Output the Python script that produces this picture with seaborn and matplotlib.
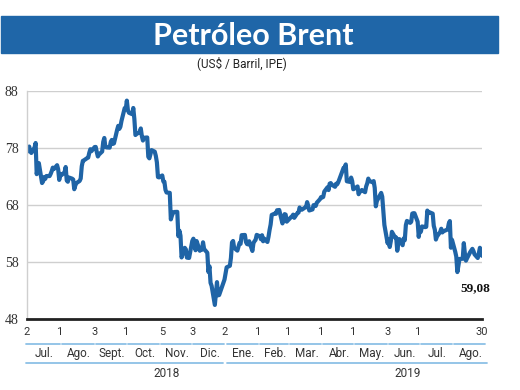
import pandas as pd
import seaborn as sns
import matplotlib.pyplot as plt
import matplotlib.dates as mdates
from matplotlib import transforms
from matplotlib.patches import Rectangle

# -------------------- DATOS --------------------
# Brent diario (US$ / barril)
jul18 = [77.30, 77.76, 78.24, 77.39, 77.11, 78.07, 78.86, 73.40, 74.45, 75.33, 71.84,
         72.16, 72.90, 72.58, 73.07, 73.06, 73.44, 73.93, 74.54, 74.29, 74.97, 74.25]
ago18 = [72.39, 73.45, 73.21, 73.75, 74.65, 72.28, 72.07, 72.81, 72.61, 72.46, 70.76, 71.43,
         71.83, 72.21, 72.63, 74.78, 75.73, 75.82, 76.21, 76.31, 77.14, 77.77, 77.42]
sep18 = [78.15, 78.17, 77.27, 76.50, 76.83, 77.37, 79.06, 79.74, 78.18, 78.09,
         78.05, 79.03, 79.40, 78.70, 78.80, 81.20, 81.87, 81.34, 81.72, 82.72]
oct18 = [84.98, 84.80, 86.29, 84.58, 84.16, 83.91, 85.00, 83.09, 80.26, 80.43, 80.78, 81.41,
         80.05, 79.29, 79.78, 79.83, 76.44, 76.17, 76.89, 77.62, 77.34, 76.61, 75.47]
nov18 = [72.89, 72.83, 73.17, 72.13, 72.07, 70.65, 70.18, 70.12, 65.47, 66.12, 66.62,
         66.76, 66.79, 62.53, 63.48, 62.60, 58.80, 60.48, 60.21, 58.76, 59.51, 58.71]
dic18 = [61.69, 62.08, 61.56, 60.06, 61.67, 59.97, 60.20, 60.15, 61.45, 60.28,
         59.61, 56.26, 57.24, 54.35, 53.82, 50.47, 54.47, 52.16, 52.20, 53.80]
ene19 = [54.91, 55.95, 57.06, 57.33, 58.72, 61.44, 61.68, 60.48, 59.99, 60.64, 61.32,
         61.18, 62.70, 62.74, 61.50, 61.14, 61.09, 61.64, 59.93, 61.32, 61.65, 61.89]
feb19 = [62.75, 62.51, 61.98, 62.69, 61.63, 62.10, 61.51, 62.42, 63.61, 64.57,
         66.25, 66.50, 66.45, 67.08, 67.07, 67.12, 64.76, 65.21, 66.39, 66.31]
mar19 = [65.07, 65.67, 65.86, 65.99, 66.30, 65.74, 66.58, 66.67, 67.55, 67.23, 67.16,
         67.54, 67.61, 68.50, 67.86, 67.03, 67.21, 67.97, 67.83, 67.82, 68.39]
abr19 = [69.01, 69.37, 69.31, 69.40, 70.34, 71.10, 70.61, 71.73, 71.83, 71.55, 71.18,
         71.72, 71.62, 71.97, 74.04, 74.51, 74.57, 75.10, 72.15, 72.04, 72.80]
may19 = [72.18, 70.75, 70.85, 71.24, 69.88, 70.37, 70.39, 70.62, 70.23, 71.24, 71.77,
         72.62, 72.21, 71.97, 72.18, 70.99, 67.76, 68.69, 70.11, 69.45, 66.87, 64.49]
jun19 = [61.28, 61.97, 60.63, 61.67, 63.29, 62.29, 62.29, 59.97, 61.31, 62.01,
         60.94, 62.14, 61.82, 64.45, 65.20, 64.86, 65.05, 66.49, 66.55, 66.55]
jul19 = [65.06, 62.40, 63.82, 63.30, 64.23, 64.11, 64.16, 67.01, 66.52, 66.72, 66.48, 64.35,
         63.66, 61.93, 62.47, 63.26, 63.83, 63.18, 63.39, 63.46, 63.71, 64.72, 65.17]
ago19 = [60.50, 61.89, 59.81, 58.94, 56.23, 57.38, 58.53, 58.57, 61.30, 59.48, 58.23,
         58.64, 59.74, 60.03, 60.30, 59.92, 59.34, 58.70, 59.51, 60.49, 60.08, 59.08]

feriados = ['2018-12-25', '2019-01-01', '2019-04-19', '2019-05-27']

meses = ['Jul.', 'Ago.', 'Sept.', 'Oct.', 'Nov.', 'Dic.', 'Ene.',
         'Feb.', 'Mar.', 'Abr.', 'May.', 'Jun.', 'Jul.', 'Ago.']
tick_fechas = ['2018-07-02', '2018-08-01', '2018-09-03', '2018-10-01', '2018-11-05',
               '2018-12-03', '2019-01-02', '2019-02-01', '2019-03-01', '2019-04-01',
               '2019-05-01', '2019-06-03', '2019-07-01', '2019-08-30']
anios = ['2018', '2019']
y_ticks = [48, 58, 68, 78, 88]

precio = (jul18 + ago18 + sep18 + oct18 + nov18 + dic18 + ene19 + feb19 + mar19
          + abr19 + may19 + jun19 + jul19 + ago19)
fechas = pd.bdate_range('2018-07-02', '2019-08-30')
fechas = fechas[~fechas.isin(pd.to_datetime(feriados))]
df = pd.DataFrame({'Fecha': fechas, 'Precio': precio})

# -------------------- GRÁFICO --------------------
azul = '#1f64a6'
celeste = '#8cc0e6'
gris = '#333333'
sans = ['Roboto', 'DejaVu Sans']
sns.set_style('white')
plt.rcParams['font.family'] = sans

fig = plt.figure(figsize=(5.2, 3.9), dpi=100)
ax = fig.add_axes([0.052, 0.182, 0.875, 0.585])

sns.lineplot(data=df, x='Fecha', y='Precio', color=azul, linewidth=3.0, ax=ax)

x0, x1 = mdates.date2num(pd.Timestamp('2018-07-02')), mdates.date2num(pd.Timestamp('2019-08-30'))
ax.set_xlim(x0, x1)
ax.set_ylim(48, 88)
ax.set_yticks(y_ticks, labels=[str(v) for v in y_ticks],
              fontfamily='Liberation Serif', fontsize=10, color=gris)
ax.grid(axis='y', color='#cfcfcf', linewidth=1.0)
ax.grid(axis='x', visible=False)
ax.set_xlabel('')
ax.set_ylabel('')
for s in ['top', 'right']:
    ax.spines[s].set_visible(False)
ax.spines['left'].set_color('#cfcfcf')
ax.spines['left'].set_linewidth(1.0)
ax.spines['bottom'].set_color('#222222')
ax.spines['bottom'].set_linewidth(2.0)
ax.tick_params(axis='y', length=0, pad=6)

tk = pd.to_datetime(tick_fechas)
ax.set_xticks(mdates.date2num(tk), labels=[str(d.day) for d in tk],
              fontfamily=sans, fontsize=8, color=gris)
ax.tick_params(axis='x', length=0, pad=6)

# meses y años bajo el eje
tr = transforms.blended_transform_factory(ax.transData, fig.transFigure)
inicios = pd.date_range('2018-07-01', periods=15, freq='MS')
for i, m in enumerate(meses):
    a = inicios[i] + pd.Timedelta(days=3) if i > 0 else inicios[i]
    b = inicios[i + 1] + pd.Timedelta(days=1)
    a, b = mdates.date2num(a), mdates.date2num(b)
    ax.plot([a, b], [0.118, 0.118], color=celeste, lw=1.3, transform=tr,
            clip_on=False, scalex=False, scaley=False)
    ax.text((a + b) / 2 + 1, 0.094, m, transform=tr, ha='center', va='center',
            fontsize=8.5, color=gris, family=sans)

cortes = [(inicios[0], pd.Timestamp('2019-01-01')), (pd.Timestamp('2019-01-04'), pd.Timestamp('2019-09-04'))]
pos_anio = [pd.Timestamp('2018-11-09'), pd.Timestamp('2019-06-22')]
for (a, b), lab, p in zip(cortes, anios, pos_anio):
    ax.plot(mdates.date2num([a, b]), [0.069, 0.069], color=celeste, lw=1.3, transform=tr,
            clip_on=False, scalex=False, scaley=False)
    ax.text(mdates.date2num(p), 0.043, lab, transform=tr, ha='center', va='center',
            fontsize=8.5, color=gris, family=sans)

# último valor
ax.annotate(f'{precio[-1]:.2f}'.replace('.', ','),
            xy=(mdates.date2num(fechas[-1]), precio[-1]), xytext=(-5, -23),
            textcoords='offset points', ha='center', va='center',
            fontsize=9.5, fontweight='bold', family='Liberation Serif', color='#111111')

# cabecera
fig.patches.append(Rectangle((0.002, 0.864), 0.956, 0.095, transform=fig.transFigure,
                             color='#1f66a8', zorder=0))
fig.text(0.487, 0.908, 'Petróleo Brent', ha='center', va='center', color='white',
         fontsize=22, fontweight='bold', family='Lato')
fig.text(0.465, 0.838, '(US$ / Barril, IPE)', ha='center', va='center', color='#222222',
         fontsize=8.5, family=sans)

fig.savefig('out.png', dpi=100)
